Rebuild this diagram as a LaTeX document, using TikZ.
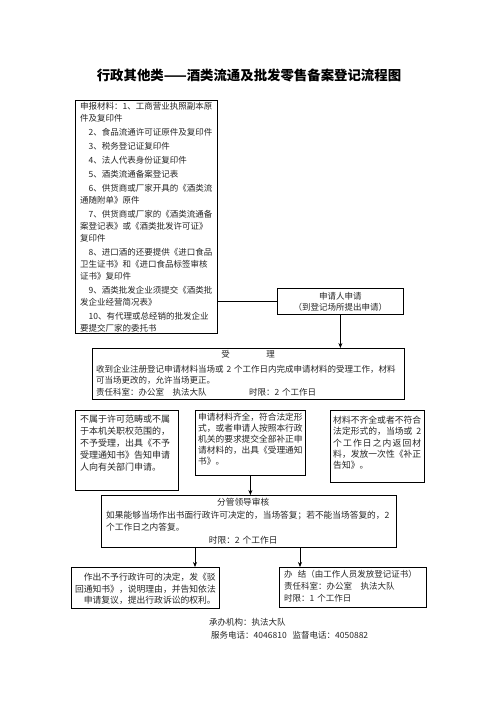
\documentclass[tikz,border=0pt]{standalone}
\usepackage{fontspec}
\setmainfont{Noto Sans CJK SC}
\usetikzlibrary{arrows.meta}
\tikzset{
  box/.style={draw, line width=0.8pt, anchor=north west, inner sep=0pt},
  txt/.style={anchor=north west, inner sep=0pt, align=left, text=black!85,
    font=\fontsize{8.5}{12}\selectfont},
  arr/.style={line width=0.8pt, -{Stealth[length=5pt,width=4pt]}},
  conn/.style={line width=0.8pt}
}
\begin{document}
\begin{tikzpicture}[x=1pt,y=-1pt]
\fill[white] (0,0) rectangle (496,702);
\useasboundingbox (0,0) rectangle (496,702);

% title
\node[font=\fontsize{13.4}{16}\selectfont\bfseries] (title) at (249,75)
  {行政其他类——酒类流通及批发零售备案登记流程图};

% materials box
\node[box, minimum width=142pt, minimum height=233pt] (A) at (75,100) {};
\node[txt, text width=134pt] (At) at (80,102) {申报材料：1、工商营业执照副本原\\
件及复印件\\[2pt]
\hspace*{1em}2、食品流通许可证原件及复印件\\[2pt]
\hspace*{1em}3、税务登记证复印件\\[2pt]
\hspace*{1em}4、法人代表身份证复印件\\[2pt]
\hspace*{1em}5、酒类流通备案登记表\\[2pt]
\hspace*{1em}6、供货商或厂家开具的《酒类流\\
通随附单》原件\\[2pt]
\hspace*{1em}7、供货商或厂家的《酒类流通备\\
案登记表》或《酒类批发许可证》\\
复印件\\[2pt]
\hspace*{1em}8、进口酒的还要提供《进口食品\\
卫生证书》和《进口食品标签审核\\
证书》复印件\\[2pt]
\hspace*{1em}9、酒类批发企业须提交《酒类批\\
发企业经营简况表》\\[2pt]
\hspace*{1em}10、有代理或总经销的批发企业\\
要提交厂家的委托书};

% applicant box
\node[box, minimum width=126pt, minimum height=26pt] (B) at (277,288) {};
\node[txt, anchor=center, align=center, font=\fontsize{8.5}{11}\selectfont] (Bt) at (B.center)
  {申请人申请\\（到登记场所提出申请）};

% acceptance box
\node[box, minimum width=312pt, minimum height=51pt] (C) at (92,348) {};
\node[txt, text width=304pt, font=\fontsize{8.5}{11.5}\selectfont] (Ct) at (96,350)
  {\makebox[304pt]{受\hspace{4.3em}理}\\[3.5pt]
收到企业注册登记申请材料当场或 2 个工作日内完成申请材料的受理工作，材料\\
可当场更改的，允许当场更正。\\
责任科室：办公室\hspace{1em}执法大队\hspace{5em}时限：2 个工作日};

% three result boxes
\node[box, minimum width=103pt, minimum height=80pt] (D1) at (75,410) {};
\node[txt, text width=94pt, font=\fontsize{9}{12}\selectfont] (D1t) at (80,415)
  {不属于许可范畴或不属\\于本机关职权范围的，\\不予受理，出具《不予\\受理通知书》告知申请\\人向有关部门申请。};

\node[box, minimum width=110pt, minimum height=65pt] (D2) at (195,410) {};
\node[txt, text width=106pt, font=\fontsize{8.7}{11.2}\selectfont] (D2t) at (198,412.5)
  {申请材料齐全，符合法定形\\式，或者申请人按照本行政\\机关的要求提交全部补正申\\请材料的，出具《受理通知\\书》。};

\node[box, minimum width=94pt, minimum height=72pt] (D3) at (330,410) {};
\node[txt, text width=89pt, font=\fontsize{8.8}{11.3}\selectfont] (D3t) at (333,416)
  {材料不齐全或者不符合\\
   \makebox[88pt][s]{法定形式的，当场或\hfill 2}\\
   \makebox[88pt][s]{个\hfil 工\hfil 作\hfil 日\hfil 之\hfil 内\hfil 返\hfil 回\hfil 材}\\
   料，发放一次性《补正\\告知》。};

% review box
\node[box, minimum width=295pt, minimum height=52pt] (E) at (101,495) {};
\node[txt, text width=290pt, font=\fontsize{8.7}{12.5}\selectfont] (Et) at (106,498)
  {\makebox[274pt]{分管领导审核}\\
如果能够当场作出书面行政许可决定的，当场答复；若不能当场答复的，2\\
个工作日之内答复。\\
\makebox[274pt]{时限：2 个工作日}};

% final boxes
\node[box, minimum width=148pt, minimum height=41pt] (F1) at (71,567) {};
\node[txt, anchor=north east, align=right, text width=146pt, font=\fontsize{8.8}{11.5}\selectfont] (F1t) at (216,573)
  {作出不予行政许可的决定，发《驳\\回通知书》，说明理由，并告知依法\\申请复议，提出行政诉讼的权利。};

\node[box, minimum width=147pt, minimum height=40pt] (F2) at (279,567) {};
\node[txt, text width=140pt] (F2t) at (284,570)
  {办\hspace{0.6em}结（由工作人员发放登记证书）\\责任科室：办公室\hspace{1em}执法大队\\时限：1 个工作日};

% footer
\node[txt] (f1) at (209,618) {承办机构：执法大队};
\node[txt] (f2) at (211,631) {服务电话：4046810\hspace{0.7em}监督电话：4050882};

% connectors
\draw[conn] (A.east |- B.west) -- (B.west);
\draw[arr] (B.south) -- (B.south |- C.north);
\draw[arr] (D2.south) -- (D2.south |- E.north);
\coordinate (eL) at (195,547);
\coordinate (eR) at (300,547);
\draw[arr] (eL) -- (eL |- F1.north);
\draw[arr] (eR) -- (eR |- F2.north);
\end{tikzpicture}
\end{document}
